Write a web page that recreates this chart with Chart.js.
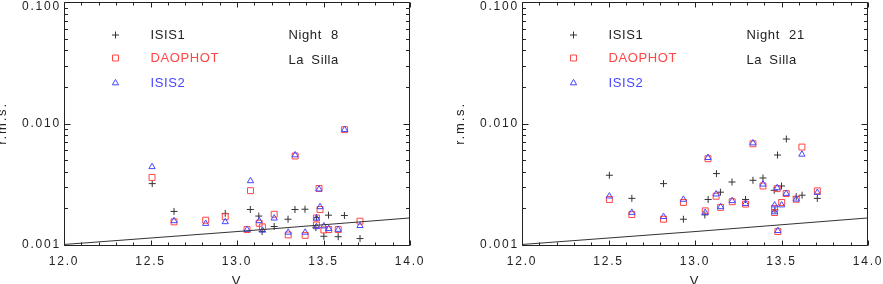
<!DOCTYPE html>
<html>
<head>
<meta charset="utf-8">
<script src="https://cdn.jsdelivr.net/npm/chart.js@4"></script>
<style>
  html, body { margin: 0; padding: 0; background: #fff; }
  body { position: relative; width: 883px; height: 284px; overflow: hidden; }
  canvas { position: absolute; top: -10px; }
  #night8 { left: -5px; }
  #night21 { left: 453px; }
</style>
</head>
<body>
<canvas id="night8" width="445" height="304"></canvas>
<canvas id="night21" width="445" height="304"></canvas>
<script>
// Chart data - r.m.s. vs V, two nights
const FONT = "'Liberation Sans', Arial, Helvetica, sans-serif";
const INK = '#222';
const RED = 'rgb(255,70,70)';
const BLUE = 'rgb(70,70,255)';

const xTickLabels = ['12.0', '12.5', '13.0', '13.5', '14.0'];
const yTickLabels = ['0.001', '0.010', '0.100'];

// Night 8
const n8Isis1V = [12.51, 12.636, 12.932, 13.077, 13.126, 13.145, 13.215, 13.295, 13.335, 13.393, 13.456, 13.46, 13.502, 13.529, 13.585, 13.621, 13.711];
const n8Isis1 = [0.0032, 0.00189, 0.00182, 0.00196, 0.00173, 0.00129, 0.00142, 0.00163, 0.00196, 0.00197, 0.00139, 0.00168, 0.00118, 0.00176, 0.00117, 0.00175, 0.00113];
const n8DaoV = [12.509, 12.636, 12.819, 12.932, 13.058, 13.078, 13.128, 13.147, 13.215, 13.296, 13.336, 13.394, 13.459, 13.459, 13.474, 13.48, 13.502, 13.53, 13.585, 13.622, 13.711];
const n8Dao = [0.0036, 0.00155, 0.0016, 0.00171, 0.00134, 0.0028, 0.00151, 0.00141, 0.00179, 0.00121, 0.0054, 0.0012, 0.00167, 0.00146, 0.00292, 0.00196, 0.00133, 0.00134, 0.00134, 0.0089, 0.00157];
const n8Isis2V = [12.509, 12.636, 12.819, 12.932, 13.058, 13.078, 13.128, 13.147, 13.215, 13.296, 13.336, 13.394, 13.459, 13.459, 13.474, 13.48, 13.502, 13.53, 13.585, 13.622, 13.711];
const n8Isis2 = [0.0044, 0.00158, 0.0015, 0.00155, 0.00134, 0.00337, 0.00158, 0.00132, 0.00166, 0.00127, 0.0055, 0.00127, 0.00166, 0.00141, 0.00288, 0.00206, 0.00143, 0.00136, 0.00134, 0.0089, 0.00144];

// Night 21
const n21Isis1V = [12.505, 12.635, 12.818, 12.933, 13.057, 13.076, 13.124, 13.147, 13.214, 13.292, 13.335, 13.393, 13.458, 13.462, 13.477, 13.5, 13.528, 13.585, 13.619, 13.707];
const n21Isis1 = [0.00375, 0.00242, 0.0032, 0.00163, 0.00177, 0.00237, 0.00387, 0.00272, 0.0033, 0.00237, 0.00341, 0.00356, 0.00282, 0.00195, 0.0055, 0.00306, 0.00745, 0.0025, 0.00257, 0.00242];
const n21DaoV = [12.505, 12.635, 12.818, 12.933, 13.059, 13.075, 13.122, 13.148, 13.215, 13.292, 13.335, 13.393, 13.46, 13.46, 13.475, 13.479, 13.501, 13.527, 13.585, 13.618, 13.707];
const n21Dao = [0.00237, 0.00178, 0.00163, 0.00224, 0.00191, 0.00513, 0.00252, 0.00204, 0.00227, 0.00217, 0.00681, 0.00306, 0.002, 0.00185, 0.00291, 0.00129, 0.00224, 0.00265, 0.00238, 0.0064, 0.00279];
const n21Isis2V = [12.505, 12.635, 12.818, 12.933, 13.059, 13.075, 13.122, 13.148, 13.215, 13.292, 13.335, 13.393, 13.46, 13.46, 13.475, 13.479, 13.501, 13.527, 13.585, 13.618, 13.707];
const n21Isis2 = [0.00252, 0.00185, 0.00171, 0.00237, 0.00185, 0.00523, 0.00262, 0.00206, 0.00231, 0.00219, 0.0069, 0.00316, 0.00213, 0.00187, 0.00295, 0.00131, 0.00213, 0.00265, 0.00238, 0.00557, 0.0027];

// noise limit line (same on both nights)
const limitV = [12.0, 13.0, 14.0];
const limitRms = [0.00101, 0.00129, 0.00167];

function pts(xs, ys) {
  return xs.map((x, i) => ({ x: x, y: ys[i] }));
}

// tick positions: labelled majors plus minor steps
const xMajor = xTickLabels.map(Number);
const xTicks = [];
for (let i = 0; i <= 20; i++) xTicks.push(Math.round((12 + i * 0.1) * 10) / 10);
const yMajor = yTickLabels.map(Number);
const yTicks = [];
yMajor.forEach((d, i) => {
  yTicks.push(d);
  if (i < yMajor.length - 1) {
    for (let k = 2; k <= 9; k++) yTicks.push(+(k * d).toPrecision(3));
  }
});

const frameTicks = {
  id: 'frameTicks',
  beforeDraw(chart) {
    chart.ctx.letterSpacing = '1.8px';
  },
  beforeDatasetsDraw(chart) {
    chart.ctx.letterSpacing = '0px';
  },
  afterDraw(chart) {
    const { ctx, chartArea: a, scales } = chart;
    const L = Math.round(a.left) + 0.5, R = Math.round(a.right) - 0.5;
    const T = Math.round(a.top) + 0.5, B = Math.round(a.bottom) + 0.5;
    ctx.save();
    ctx.strokeStyle = INK;
    ctx.lineWidth = 1;
    ctx.beginPath();
    ctx.rect(L, T, R - L, B - T);
    scales.x.ticks.forEach(t => {
      const px = Math.round(scales.x.getPixelForValue(t.value)) + 0.5;
      const len = t.major ? 5 : 3;
      ctx.moveTo(px, B); ctx.lineTo(px, B - len);
      ctx.moveTo(px, T); ctx.lineTo(px, T + len);
    });
    scales.y.ticks.forEach(t => {
      const py = Math.round(scales.y.getPixelForValue(t.value)) + 0.5;
      const len = t.major ? 6 : 3.5;
      ctx.moveTo(L, py); ctx.lineTo(L + len, py);
      ctx.moveTo(R, py); ctx.lineTo(R - len, py);
    });
    ctx.stroke();

    // legend and labels inside the plot
    const o = chart.options.plugins.frameTicks;
    const mx = a.left + 51.5, tx = a.left + 86.5, nx = a.left + 224.5;
    const rows = [a.top + 33, a.top + 56, a.top + 81];
    const marks = [
      { style: 'cross', r: 3.5, color: '#333', text: 'ISIS1', textColor: INK },
      { style: 'rect', r: 4.2, color: RED, text: 'DAOPHOT', textColor: RED },
      { style: 'triangle', r: 3.6, color: BLUE, text: 'ISIS2', textColor: BLUE }
    ];
    ctx.font = '13px ' + FONT;
    ctx.textBaseline = 'middle';
    ctx.textAlign = 'left';
    ctx.letterSpacing = '0.6px';
    marks.forEach((m, i) => {
      ctx.strokeStyle = m.color;
      ctx.fillStyle = 'rgba(0,0,0,0)';
      ctx.lineWidth = 1;
      Chart.helpers.drawPoint(ctx, { pointStyle: m.style, radius: m.r, rotation: 0, borderWidth: 1 }, mx, rows[i]);
      ctx.fillStyle = m.textColor;
      ctx.fillText(m.text, tx, rows[i]);
    });
    ctx.fillStyle = INK;
    ctx.wordSpacing = '5px';
    ctx.fillText(o.night, nx, a.top + 33);
    ctx.wordSpacing = '3px';
    ctx.fillText(o.site, nx, a.top + 58);
    ctx.restore();
  }
};

function makeChart(id, night, isis1, dao, isis2) {
  const ctx = document.getElementById(id).getContext('2d');
  return new Chart(ctx, {
    type: 'scatter',
    data: {
      datasets: [
        {
          type: 'line',
          label: 'limit',
          data: pts(limitV, limitRms),
          borderColor: '#333',
          borderWidth: 1,
          pointRadius: 0,
          showLine: true,
          tension: 0
        },
        {
          label: 'ISIS2',
          data: isis2,
          pointStyle: 'triangle',
          pointRadius: 3.6,
          borderColor: BLUE,
          backgroundColor: 'rgba(0,0,0,0)',
          borderWidth: 1
        },
        {
          label: 'DAOPHOT',
          data: dao,
          pointStyle: 'rect',
          pointRadius: 4.2,
          borderColor: RED,
          backgroundColor: 'rgba(0,0,0,0)',
          borderWidth: 1
        },
        {
          label: 'ISIS1',
          data: isis1,
          pointStyle: 'cross',
          pointRadius: 3.5,
          borderColor: '#333',
          backgroundColor: '#333',
          borderWidth: 1
        }
      ]
    },
    options: {
      responsive: false,
      animation: false,
      devicePixelRatio: 1,
      layout: { padding: { left: 0, right: 30, top: 11, bottom: 0 } },
      plugins: {
        legend: { display: false },
        tooltip: { enabled: false },
        frameTicks: { night: night, site: 'La Silla' }
      },
      scales: {
        x: {
          type: 'linear',
          min: 12,
          max: 14,
          afterBuildTicks: s => { s.ticks = xTicks.map(v => ({ value: v, major: xMajor.includes(v) })); },
          afterFit: s => { s.height = 49; },
          grid: { display: false, drawTicks: false },
          border: { display: false },
          ticks: {
            autoSkip: false,
            maxRotation: 0,
            padding: 9,
            color: INK,
            font: { family: FONT, size: 12 },
            callback: v => {
              const i = xMajor.indexOf(v);
              return i >= 0 ? xTickLabels[i] : '';
            }
          },
          title: {
            display: true,
            text: 'V',
            color: INK,
            font: { family: FONT, size: 13 },
            padding: { top: 0, bottom: 5 }
          }
        },
        y: {
          type: 'logarithmic',
          min: 0.001,
          max: 0.1,
          afterBuildTicks: s => { s.ticks = yTicks.map(v => ({ value: v, major: yMajor.includes(v) })); },
          afterFit: s => { s.width = 69; },
          grid: { display: false, drawTicks: false },
          border: { display: false },
          ticks: {
            autoSkip: false,
            padding: 3,
            color: INK,
            font: c => ({ family: FONT, size: 12, lineHeight: c.tick && c.tick.value === 0.1 ? 0.75 : 1.2 }),
            callback: v => {
              const i = yMajor.indexOf(v);
              if (i < 0) return '';
              return v === 0.1 ? ['', yTickLabels[i]] : yTickLabels[i];
            }
          },
          title: {
            display: true,
            text: 'r.m.s.',
            color: INK,
            font: { family: FONT, size: 13 },
            padding: { top: 0, bottom: 0 }
          }
        }
      }
    },
    plugins: [frameTicks]
  });
}

makeChart('night8', 'Night 8', pts(n8Isis1V, n8Isis1), pts(n8DaoV, n8Dao), pts(n8Isis2V, n8Isis2));
makeChart('night21', 'Night 21', pts(n21Isis1V, n21Isis1), pts(n21DaoV, n21Dao), pts(n21Isis2V, n21Isis2));
</script>
</body>
</html>
